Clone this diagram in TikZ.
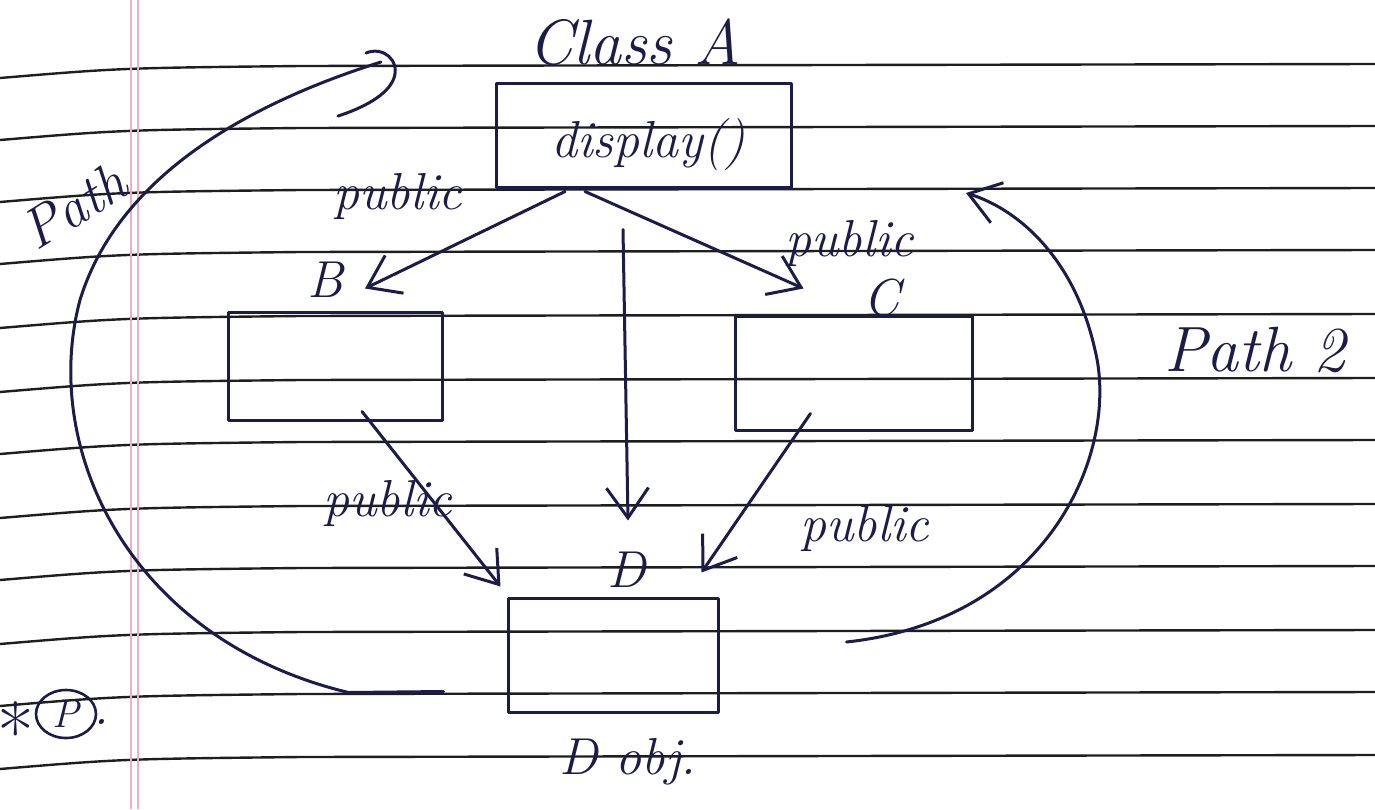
\documentclass[tikz,border=0pt]{standalone}
\usetikzlibrary{arrows.meta,calc,shapes.geometric}
\definecolor{ink}{RGB}{28,28,72}
\definecolor{ruleink}{RGB}{30,30,30}
\definecolor{marginred}{RGB}{236,176,196}
\begin{document}
\begin{tikzpicture}[x=1pt,y=-1pt,
  inkline/.style={draw=ink,line width=3pt,line cap=round,line join=round},
  ruled/.style={draw=ruleink,line width=2.4pt},
  marginline/.style={draw=marginred,line width=1.6pt},
  arr/.style={-{Straight Barb[length=30pt,width=42pt]}},
  lbl/.style={text=ink,inner sep=0pt,font=\fontsize{52}{56}\selectfont\itshape},
  biglbl/.style={text=ink,inner sep=0pt,font=\fontsize{64}{68}\selectfont\itshape},
  boxnode/.style={inkline,inner sep=0pt}]
\useasboundingbox (0,0) rectangle (1375,809);
\fill[white] (0,0) rectangle (1375,809);
% ruled paper
\foreach \yy in {66,128,190,252,316,380,442,506,568,632,694,757}{
  \draw[ruled] (0,\yy+12) .. controls (120,\yy+2) .. (300,\yy) -- (1375,\yy-2);
}
\draw[marginline] (131,0) -- (131,809);
\draw[marginline] (138,0) -- (138,809);

% boxes
\node[boxnode,minimum width=295pt,minimum height=104pt] (A) at (644,135) {};
\node[lbl] (disp) at (648,145) {display()};
\node[biglbl] (clsA) at (635,42) {Class A};
\node[boxnode,minimum width=214pt,minimum height=108pt] (B) at (335,366) {};
\node[boxnode,minimum width=237pt,minimum height=114pt] (C) at (853.5,373) {};
\node[boxnode,minimum width=210pt,minimum height=114pt] (D) at (613,655) {};

% letters
\node[lbl] (lB) at (325,280) {B};
\node[lbl] (lC) at (882,298) {C};
\node[lbl] (lD) at (627,570) {D};
\node[lbl] (lDobj) at (628,762) {D obj.};

% public labels
\node[lbl] (pub1) at (398,196) {public};
\node[lbl] (pub2) at (850,243) {public};
\node[lbl] (pub3) at (388,503) {public};
\node[lbl] (pub4) at (865,528) {public};

% path labels
\node[biglbl] (path2) at (1255,350) {Path 2};
\node[text=ink,inner sep=0pt,font=\fontsize{56}{60}\selectfont\itshape,rotate=32] (path1) at (74,206) {Path};

% bottom-left mark
\node[text=ink,inner sep=0pt,font=\fontsize{80}{80}\selectfont] (star) at (16,732) {*};
\node[draw=ink,line width=2.6pt,ellipse,minimum width=60pt,minimum height=48pt,inner sep=0pt,text=ink,font=\fontsize{40}{44}\selectfont\itshape] (circP) at (66,714) {P};
\node[lbl] (dotP) at (101,722) {.};

% connectors
\draw[inkline,arr] ($(A.south)+(-79,3)$) -- ($(B.north)+(30,-22)$);
\draw[inkline,arr] ($(A.south)+(-59,3)$) -- ($(C.north)+(-50,-26)$);
\draw[inkline,arr] ($(A.south)+(-21,41)$) -- ($(D.north)+(15,-76)$);
\draw[inkline,arr] ($(B.south)+(27,-10)$) -- ($(D.north west)+(-6,-10)$);
\draw[inkline,arr] ($(C.south)+(-43,-18)$) -- ($(D.north east)+(-18,-24)$);

% Path 1
\coordinate (p1s) at ($(D.south west)+(-63,-22)$);
\coordinate (p1e) at ($(A.west)+(-114,-73)$);
\draw[inkline] (p1s) -- ++(-95,1) .. controls (130,640) and (40,450) .. (80,300)
   .. controls (120,170) and (260,100) .. (p1e);
\draw[inkline] ($(p1e)+(-15,-9)$) .. controls ($(p1e)+(2,-16)$) and ($(p1e)+(19,-2)$) .. ($(p1e)+(13,16)$)
   .. controls ($(p1e)+(7,33)$) and ($(p1e)+(-18,46)$) .. ($(p1e)+(-43,54)$);

% Path 2
\draw[inkline,arr] ($(D.east)+(127,-13)$) .. controls (1050,620) and (1120,450) .. (1095,350)
   .. controls (1075,260) and (1020,210) .. ($(A.east)+(173,58)$);
\end{tikzpicture}
\end{document}
